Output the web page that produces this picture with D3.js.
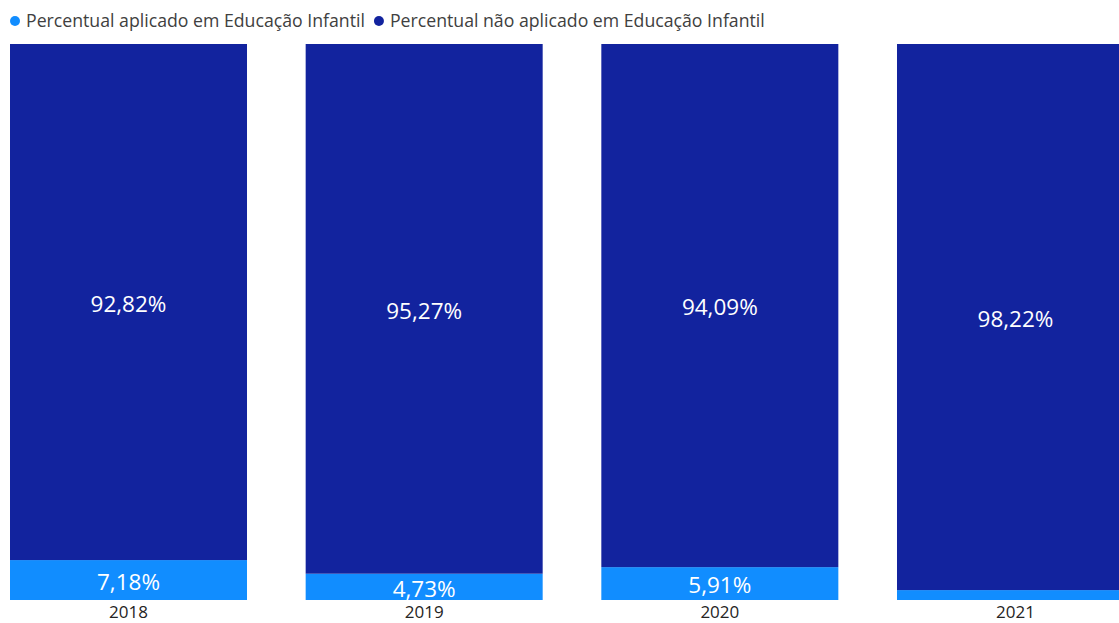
<!DOCTYPE html>
<html>
<head>
<meta charset="utf-8">
<script src="https://cdn.jsdelivr.net/npm/d3@7"></script>
<style>
  html, body { margin: 0; padding: 0; background: #fff; overflow: hidden; }
  svg { display: block; font-family: "Open Sans", "Segoe UI", sans-serif; }
</style>
</head>
<body>
<svg id="chart" width="1119" height="623"></svg>
<script>
// Share of spending applied to early childhood education, by year
const years = ["2018", "2019", "2020", "2021"];
const aplicado = [7.18, 4.73, 5.91, 1.78];
const naoAplicado = [92.82, 95.27, 94.09, 98.22];
const seriesNames = ["Percentual aplicado em Educação Infantil", "Percentual não aplicado em Educação Infantil"];
const seriesColors = ["#118DFF", "#12239E"];

const svg = d3.select("#chart");

const x = d3.scaleBand().domain(years).range([10, 1134]).paddingInner(0.1984).paddingOuter(0);
const y = d3.scaleLinear().domain([0, 100]).range([600, 44]);

const rows = years.map((yr, i) => ({ year: yr, aplicado: aplicado[i], nao: naoAplicado[i] }));
const stack = d3.stack().keys(["aplicado", "nao"]);
const layers = stack(rows);

const fmt = v => v.toFixed(2).replace(".", ",") + "%";

const g = svg.append("g");
layers.forEach((layer, li) => {
  g.selectAll(null).data(layer).join("rect")
    .attr("x", d => x(d.data.year))
    .attr("width", x.bandwidth())
    .attr("y", d => y(d[1]))
    .attr("height", d => y(d[0]) - y(d[1]))
    .attr("fill", seriesColors[li]);

  // value labels, only where the segment is tall enough to hold them
  g.selectAll(null).data(layer.filter(d => y(d[0]) - y(d[1]) > 22)).join("text")
    .attr("x", d => x(d.data.year) + x.bandwidth() / 2)
    .attr("y", d => (y(d[0]) + y(d[1])) / 2 + 2)
    .attr("dy", "0.35em")
    .attr("text-anchor", "middle")
    .attr("fill", "#fff")
    .attr("font-size", 22.5)
    .text(d => fmt(d[1] - d[0]));
});

// Category axis
const xAxis = d3.axisBottom(x).tickSize(0).tickPadding(0);
const ax = svg.append("g").attr("transform", "translate(0,618)").call(xAxis);
ax.select(".domain").remove();
ax.selectAll("text")
  .attr("font-size", 17)
  .attr("font-family", "\"Open Sans\", sans-serif")
  .attr("fill", "#252423")
  .attr("y", 0)
  .attr("dy", "0");

// Legend
const legend = svg.append("g").attr("transform", "translate(0,21)");
let lx = 10;
seriesNames.forEach((name, i) => {
  legend.append("circle").attr("cx", lx + 5).attr("cy", 0).attr("r", 5).attr("fill", seriesColors[i]);
  const t = legend.append("text")
    .attr("x", lx + 16).attr("y", 0).attr("dy", "0.35em")
    .attr("font-size", 17.7).attr("fill", "#404040")
    .text(name);
  lx += 16 + t.node().getComputedTextLength() + 9;
});
</script>
</body>
</html>
